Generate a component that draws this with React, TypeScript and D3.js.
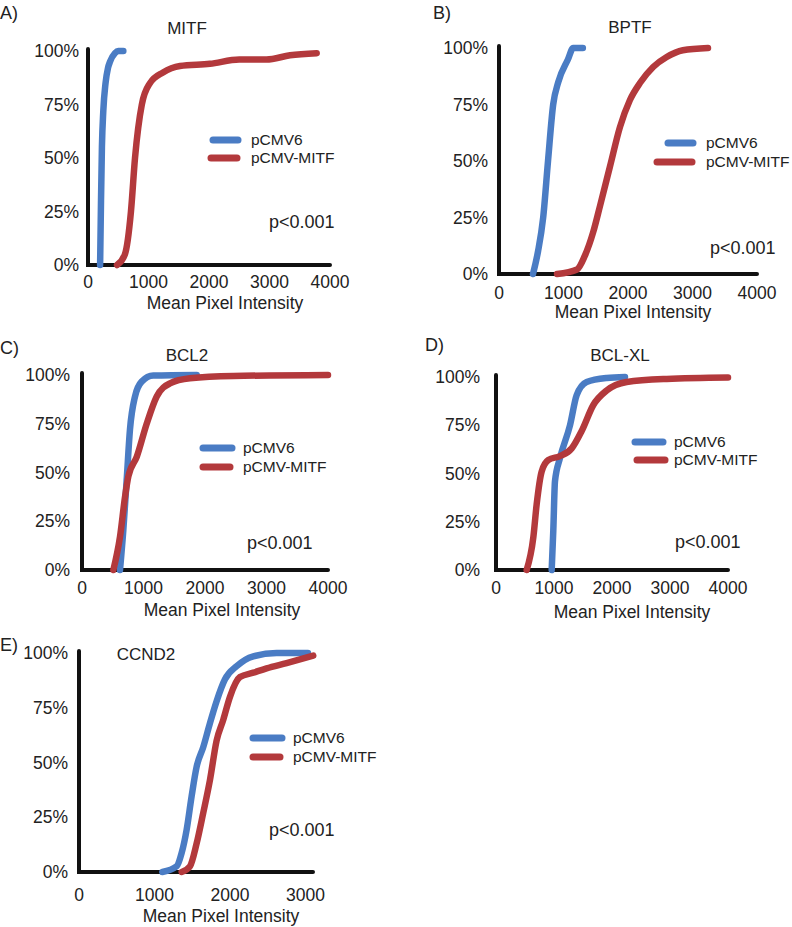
import React from 'react';
import * as d3 from 'd3';

// ---------- data ----------
const seriesNames = ['pCMV6', 'pCMV-MITF'];
const seriesColors = ['#4A7CC4', '#B3393C'];
const panelLetters = ['A)', 'B)', 'C)', 'D)', 'E)'];
const panelTitles = ['MITF', 'BPTF', 'BCL2', 'BCL-XL', 'CCND2'];
const pValueLabels = ['p<0.001', 'p<0.001', 'p<0.001', 'p<0.001', 'p<0.001'];
const percentTicks = [0, 25, 50, 75, 100];
const intensityTicks4000 = [0, 1000, 2000, 3000, 4000];
const intensityTicks3000 = [0, 1000, 2000, 3000];
const xAxisTitle = 'Mean Pixel Intensity';

// [mean pixel intensity, cumulative %]
const mitfPCMV6 = [[200, 0], [215, 30], [230, 55], [253, 72], [290, 85], [330, 92], [364, 95], [446, 99], [500, 100], [584, 100]];
const mitfPCMVMITF = [[480, 0], [610, 5], [710, 25], [777, 50], [890, 75], [1025, 85], [1240, 90], [1520, 93], [2015, 94], [2500, 96], [2950, 96], [3340, 98], [3780, 99]];

const bptfPCMV6 = [[527, 0], [605, 10], [685, 25], [760, 50], [840, 75], [920, 85], [1070, 95], [1150, 100], [1300, 100]];
const bptfPCMVMITF = [[900, 0], [1210, 2], [1330, 8], [1460, 18.5], [1565, 30], [1720, 47.5], [1875, 65], [2030, 77], [2185, 84.5], [2390, 91.6], [2600, 96], [2850, 99], [3240, 100]];

const bcl2PCMV6 = [[618, 0], [672, 20.5], [726, 46], [780, 72], [862, 89], [970, 96.6], [1160, 99.7], [1865, 100]];
const bcl2PCMVMITF = [[510, 0], [618, 17], [700, 37.6], [754, 48], [890, 58], [1052, 75], [1215, 89], [1430, 95.7], [1756, 98.3], [2460, 99.5], [4000, 100]];

const bclxlPCMV6 = [[960, 0], [988, 20.5], [1017, 46], [1103, 58], [1276, 75], [1391, 90.6], [1563, 97.4], [1908, 99.5], [2224, 100]];
const bclxlPCMVMITF = [[529, 0], [644, 17], [701, 34], [787, 51], [902, 57], [1103, 59], [1305, 63], [1477, 72], [1678, 85.5], [1908, 93], [2253, 97.4], [2943, 99], [4000, 99.7]];

const ccnd2PCMV6 = [[1104, 0], [1294, 2.6], [1360, 8.7], [1426, 19.3], [1492, 34.6], [1558, 48], [1646, 57], [1735, 68], [1823, 78], [1934, 88], [2089, 94], [2309, 98.5], [2618, 100], [3033, 100]];
const ccnd2PCMVMITF = [[1360, 0], [1470, 2.6], [1558, 13], [1646, 27], [1735, 42], [1823, 60], [1912, 69.6], [2000, 80], [2132, 89], [2309, 91], [2485, 93], [2750, 95.4], [3103, 98.8]];

const panelSeries = [
  [mitfPCMV6, mitfPCMVMITF],
  [bptfPCMV6, bptfPCMVMITF],
  [bcl2PCMV6, bcl2PCMVMITF],
  [bclxlPCMV6, bclxlPCMVMITF],
  [ccnd2PCMV6, ccnd2PCMVMITF],
];
const panelXTicks = [intensityTicks4000, intensityTicks4000, intensityTicks4000, intensityTicks4000, intensityTicks3000];
const panelXMax = [4000, 4000, 4000, 4000, 3100];

// ---------- layout ----------
const layout = [
  { letter: [0, 13], title: [187, 28], x0: 88, x1: 330, y0: 265, y1: 51, yLabDx: 9, xLabDy: 17, axTitle: [225, 303], leg: [[213, 238, 140], [211, 237, 158]], legText: 251, p: [269, 222] },
  { letter: [433, 13], title: [630, 27], x0: 499, x1: 757, y0: 274, y1: 48, yLabDx: 11, xLabDy: 19, axTitle: [633, 312], leg: [[668, 693, 143], [657, 692, 162]], legText: 706, p: [710, 248] },
  { letter: [0, 348], title: [187, 355], x0: 82, x1: 328, y0: 570, y1: 375, yLabDx: 12, xLabDy: 18, axTitle: [222, 610], leg: [[203, 232, 448], [203, 230, 467]], legText: 243, p: [247, 543] },
  { letter: [425, 345], title: [620, 355], x0: 496, x1: 728, y0: 570, y1: 377, yLabDx: 16, xLabDy: 18, axTitle: [632, 612], leg: [[635, 663, 442], [637, 665, 460]], legText: 674, p: [675, 542] },
  { letter: [0, 645], title: [146, 654], x0: 79, x1: 313, y0: 872, y1: 653, yLabDx: 11, xLabDy: 23, axTitle: [221, 916], leg: [[253, 282, 738], [253, 280, 757]], legText: 293, p: [269, 830] },
];

const FONT = '"Liberation Sans", Arial, sans-serif';

function Panel({ i }: { i: number }) {
  const L = layout[i];
  const x = d3.scaleLinear().domain([0, panelXMax[i]]).range([L.x0, L.x1]);
  const y = d3.scaleLinear().domain([0, 100]).range([L.y0, L.y1]);
  const line = d3
    .line<number[]>()
    .x((d) => x(d[0]))
    .y((d) => y(d[1]))
    .curve(d3.curveMonotoneX);
  const axisPath = `M${L.x0},${y(100) - 2}L${L.x0},${L.y0}L${L.x1},${L.y0}`;
  return (
    <g>
      <text x={L.letter[0]} y={L.letter[1]} dy="0.35em" fontSize={18} fill="#222">
        {panelLetters[i]}
      </text>
      <text x={L.title[0]} y={L.title[1]} dy="0.35em" fontSize={17} textAnchor="middle" fill="#222">
        {panelTitles[i]}
      </text>
      {percentTicks.map((t) => (
        <text key={t} x={L.x0 - L.yLabDx} y={y(t)} dy="0.35em" fontSize={17.5} textAnchor="end" fill="#222">
          {t + '%'}
        </text>
      ))}
      {panelXTicks[i].map((t) => (
        <text key={t} x={x(t)} y={L.y0 + L.xLabDy} dy="0.35em" fontSize={17.5} textAnchor="middle" fill="#222">
          {t}
        </text>
      ))}
      <text x={L.axTitle[0]} y={L.axTitle[1]} dy="0.35em" fontSize={17.5} textAnchor="middle" fill="#222">
        {xAxisTitle}
      </text>
      <path d={axisPath} fill="none" stroke="#111" strokeWidth={4} strokeLinecap="round" strokeLinejoin="miter" />
      {panelSeries[i].map((s, k) => (
        <path key={k} d={line(s) || ''} fill="none" stroke={seriesColors[k]} strokeWidth={6.5} strokeLinecap="round" strokeLinejoin="round" />
      ))}
      {seriesNames.map((n, k) => (
        <g key={n}>
          <line x1={L.leg[k][0]} x2={L.leg[k][1]} y1={L.leg[k][2]} y2={L.leg[k][2]} stroke={seriesColors[k]} strokeWidth={7} strokeLinecap="round" />
          <text x={L.legText} y={L.leg[k][2]} dy="0.35em" fontSize={15.5} fill="#222">
            {n}
          </text>
        </g>
      ))}
      <text x={L.p[0]} y={L.p[1]} dy="0.35em" fontSize={18} fill="#222">
        {pValueLabels[i]}
      </text>
    </g>
  );
}

export default function App() {
  return (
    <svg
      width={792}
      height={927}
      style={{ position: 'absolute', left: 0, top: 0, background: '#fff' }}
      fontFamily={FONT}
    >
      <rect width={792} height={927} fill="#fff" />
      {layout.map((_, i) => (
        <Panel key={i} i={i} />
      ))}
    </svg>
  );
}
